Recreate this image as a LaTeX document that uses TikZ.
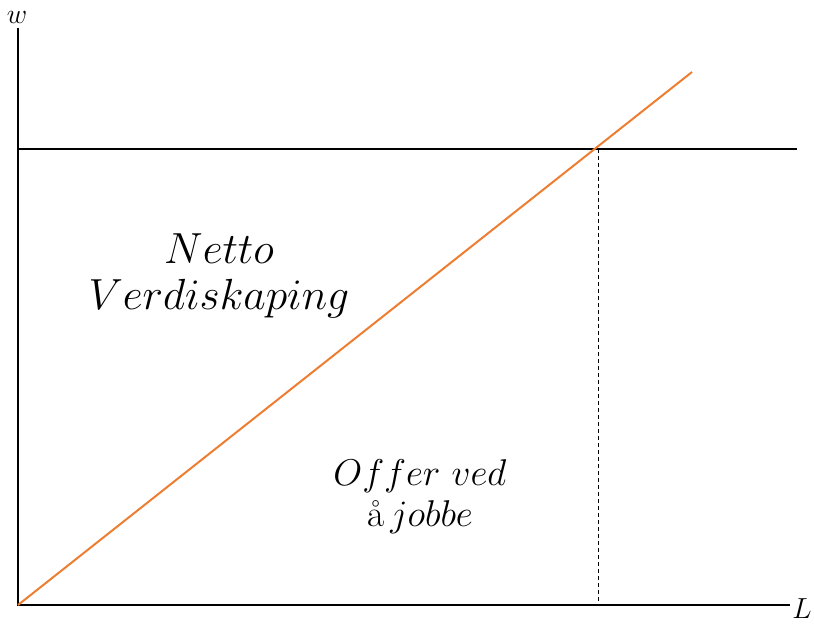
\documentclass[tikz,border=0pt]{standalone}
\usepackage{fix-cm}
\usepackage{amsmath}
\definecolor{offorange}{RGB}{237,125,49}

\begin{document}
\begin{tikzpicture}[x = 1pt, y = -1pt]
\tikzstyle{AxisStyle}=[line width = 1.8pt, black]
\tikzstyle{LabelStyle}=[inner sep = 0pt, align = center]
\useasboundingbox (0,0) rectangle (814,628);
\coordinate (o) at (18,605);
\coordinate (wtop) at (18,28);
\coordinate (lend) at (790,605);
\coordinate (hl) at (18,149);
\coordinate (hr) at (797,149);
\coordinate (p) at (598,149);
\coordinate (pbase) at (598,605);
\coordinate (s) at (692,72);
\node[LabelStyle, scale = 1.4, font = \fontsize{20}{24}\selectfont] (w) at (17,17) {$w$};
\node[LabelStyle, scale = 1.45, font = \fontsize{20}{24}\selectfont] (L) at (802,609) {$L$};
\draw[AxisStyle] (wtop) -- (o) -- (lend);
\draw[AxisStyle] (hl) -- (hr);
\draw[line width = 0.7pt, dash pattern = on 4pt off 3pt] (p) -- (pbase);
\draw[offorange, line width = 2pt] (o) -- (s);
\node[LabelStyle, scale = 1.32, font = \fontsize{33}{35}\selectfont] (netto) at (219,276) {$Netto$\\ $Verdiskaping$};
\node[LabelStyle, scale = 1.33, font = \fontsize{28}{31}\selectfont] (offer) at (420,497) {$Offer\ ved$\\ \r{a}\,$jobbe$};
\end{tikzpicture}
\end{document}
